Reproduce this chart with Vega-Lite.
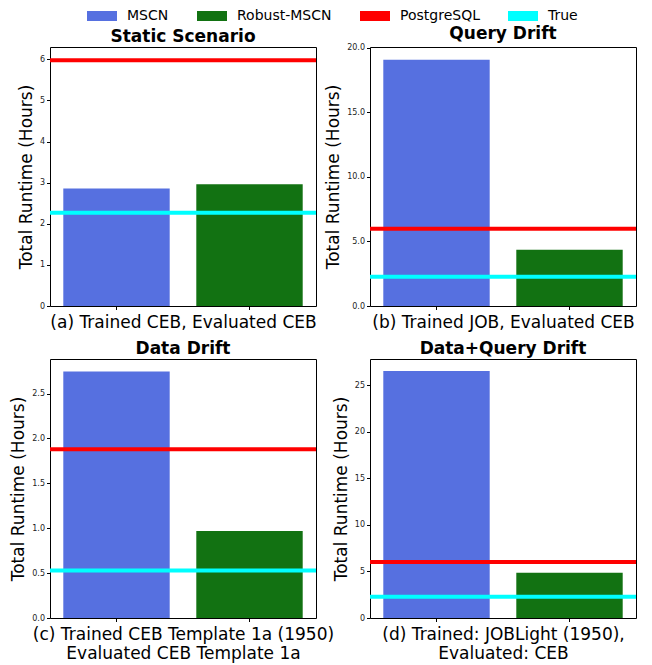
{
  "$schema": "https://vega.github.io/schema/vega-lite/v6.json",
  "padding": {"left": 9, "top": 1, "right": 5, "bottom": 3},
  "data": {"values": [
    {"panel": "a", "series": "MSCN", "value": 2.86},
    {"panel": "a", "series": "Robust-MSCN", "value": 2.96},
    {"panel": "a", "series": "PostgreSQL", "value": 5.98},
    {"panel": "a", "series": "True", "value": 2.27},
    {"panel": "b", "series": "MSCN", "value": 19.08},
    {"panel": "b", "series": "Robust-MSCN", "value": 4.35},
    {"panel": "b", "series": "PostgreSQL", "value": 5.98},
    {"panel": "b", "series": "True", "value": 2.27},
    {"panel": "c", "series": "MSCN", "value": 2.745},
    {"panel": "c", "series": "Robust-MSCN", "value": 0.97},
    {"panel": "c", "series": "PostgreSQL", "value": 1.88},
    {"panel": "c", "series": "True", "value": 0.53},
    {"panel": "d", "series": "MSCN", "value": 26.5},
    {"panel": "d", "series": "Robust-MSCN", "value": 4.85},
    {"panel": "d", "series": "PostgreSQL", "value": 6.0},
    {"panel": "d", "series": "True", "value": 2.27}
  ]},
  "columns": 2,
  "bounds": "flush",
  "spacing": {"row": 53, "column": 54},
  "concat": [
    {
      "title": "Static Scenario",
      "width": 266, "height": 259,
      "transform": [{"filter": "datum.panel === 'a'"}],
      "layer": [
        {"transform": [{"filter": "datum.series === 'MSCN' || datum.series === 'Robust-MSCN'"}],
         "mark": {"type": "bar"},
         "encoding": {
           "x": {"field": "series", "type": "nominal", "sort": ["MSCN", "Robust-MSCN"], "scale": {"paddingInner": 0.2, "paddingOuter": 0.1}, "axis": {"title": "(a) Trained CEB, Evaluated CEB", "labels": false}},
           "y": {"field": "value", "type": "quantitative", "scale": {"domain": [0, 6.3], "nice": false, "zero": true}, "axis": {"title": "Total Runtime (Hours)", "values": [0,1,2,3,4,5,6], "format": "d"}},
           "color": {"field": "series", "type": "nominal", "scale": {"domain": ["MSCN", "Robust-MSCN", "PostgreSQL", "True"], "range": ["#5670e0", "#127212", "#ff0000", "#00ffff"]}}
         }},
        {"transform": [{"filter": "datum.series === 'PostgreSQL' || datum.series === 'True'"}],
         "mark": {"type": "rule", "strokeWidth": 4},
         "encoding": {
           "y": {"field": "value", "type": "quantitative"},
           "color": {"field": "series", "type": "nominal"}
         }}
      ]
    },
    {
      "title": "Query Drift",
      "width": 266, "height": 259,
      "transform": [{"filter": "datum.panel === 'b'"}],
      "layer": [
        {"transform": [{"filter": "datum.series === 'MSCN' || datum.series === 'Robust-MSCN'"}],
         "mark": {"type": "bar"},
         "encoding": {
           "x": {"field": "series", "type": "nominal", "sort": ["MSCN", "Robust-MSCN"], "scale": {"paddingInner": 0.2, "paddingOuter": 0.1}, "axis": {"title": "(b) Trained JOB, Evaluated CEB", "labels": false}},
           "y": {"field": "value", "type": "quantitative", "scale": {"domain": [0, 20.06], "nice": false, "zero": true}, "axis": {"title": "Total Runtime (Hours)", "values": [0,2.5,5,7.5,10,12.5,15,17.5,20], "format": ".1f"}},
           "color": {"field": "series", "type": "nominal"}
         }},
        {"transform": [{"filter": "datum.series === 'PostgreSQL' || datum.series === 'True'"}],
         "mark": {"type": "rule", "strokeWidth": 4},
         "encoding": {
           "y": {"field": "value", "type": "quantitative"},
           "color": {"field": "series", "type": "nominal"}
         }}
      ]
    },
    {
      "title": "Data Drift",
      "width": 266, "height": 259,
      "transform": [{"filter": "datum.panel === 'c'"}],
      "layer": [
        {"transform": [{"filter": "datum.series === 'MSCN' || datum.series === 'Robust-MSCN'"}],
         "mark": {"type": "bar"},
         "encoding": {
           "x": {"field": "series", "type": "nominal", "sort": ["MSCN", "Robust-MSCN"], "scale": {"paddingInner": 0.2, "paddingOuter": 0.1}, "axis": {"title": ["(c) Trained CEB Template 1a (1950)", "Evaluated CEB Template 1a"], "labels": false}},
           "y": {"field": "value", "type": "quantitative", "scale": {"domain": [0, 2.885], "nice": false, "zero": true}, "axis": {"title": "Total Runtime (Hours)", "values": [0,0.5,1,1.5,2,2.5], "format": ".1f"}},
           "color": {"field": "series", "type": "nominal"}
         }},
        {"transform": [{"filter": "datum.series === 'PostgreSQL' || datum.series === 'True'"}],
         "mark": {"type": "rule", "strokeWidth": 4},
         "encoding": {
           "y": {"field": "value", "type": "quantitative"},
           "color": {"field": "series", "type": "nominal"}
         }}
      ]
    },
    {
      "title": "Data+Query Drift",
      "width": 266, "height": 259,
      "transform": [{"filter": "datum.panel === 'd'"}],
      "layer": [
        {"transform": [{"filter": "datum.series === 'MSCN' || datum.series === 'Robust-MSCN'"}],
         "mark": {"type": "bar"},
         "encoding": {
           "x": {"field": "series", "type": "nominal", "sort": ["MSCN", "Robust-MSCN"], "scale": {"paddingInner": 0.2, "paddingOuter": 0.1}, "axis": {"title": ["(d) Trained: JOBLight (1950),", "Evaluated: CEB"], "labels": false}},
           "y": {"field": "value", "type": "quantitative", "scale": {"domain": [0, 27.8], "nice": false, "zero": true}, "axis": {"title": "Total Runtime (Hours)", "values": [0,5,10,15,20,25], "format": "d"}},
           "color": {"field": "series", "type": "nominal"}
         }},
        {"transform": [{"filter": "datum.series === 'PostgreSQL' || datum.series === 'True'"}],
         "mark": {"type": "rule", "strokeWidth": 4},
         "encoding": {
           "y": {"field": "value", "type": "quantitative"},
           "color": {"field": "series", "type": "nominal"}
         }}
      ]
    }
  ],
  "resolve": {"scale": {"y": "independent", "x": "independent", "color": "shared"}},
  "config": {
    "font": "DejaVu Sans",
    "view": {"stroke": "black", "strokeWidth": 1},
    "title": {"fontSize": 17, "fontWeight": "bold", "font": "DejaVu Sans", "offset": 1, "color": "black"},
    "axis": {"grid": false, "domain": false, "tickColor": "black", "tickSize": 3.5, "labelFontSize": 8, "labelColor": "#222", "titleFontSize": 17, "titleFontWeight": "normal", "titleColor": "black", "labelPadding": 2},
    "axisY": {"titlePadding": 4},
    "axisX": {"titlePadding": 4},
    "legend": {
      "orient": "none", "direction": "horizontal", "legendX": 37, "legendY": -46, "title": null,
      "labelFontSize": 14, "labelFont": "DejaVu Sans", "labelColor": "black",
      "symbolType": "M-1,-0.333H1V0.333H-1Z", "symbolSize": 900, "symbolStrokeWidth": 0, "symbolOpacity": 1,
      "columnPadding": 28, "labelOffset": 10
    }
  }
}
